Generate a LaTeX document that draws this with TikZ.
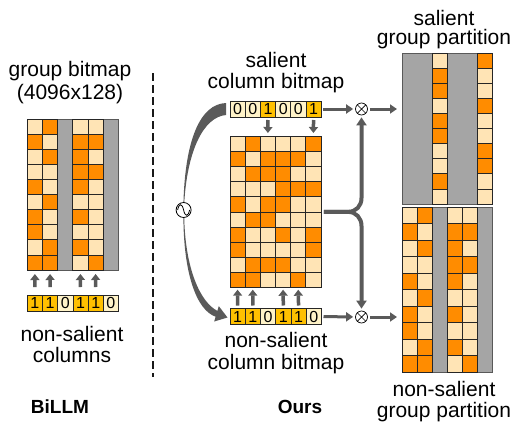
\documentclass[tikz,border=0pt]{standalone}
\usepackage{fontspec}
\setmainfont{Liberation Sans}
\usetikzlibrary{arrows.meta}
\definecolor{orng}{HTML}{FF8C00}
\definecolor{lite}{HTML}{FFE4B5}
\definecolor{bitone}{HTML}{FFC000}
\definecolor{bitzero}{HTML}{FFF3C8}
\definecolor{colgray}{HTML}{A5A5A5}
\definecolor{arrgray}{HTML}{5A5A5A}
\newcommand\cellgrid[6]{%
  \foreach \row [count=\r] in {#6}{%
    \foreach \c [count=\k] in \row {%
      \if\c G\relax\else
        \node[cell\c, minimum width=#4pt, minimum height=#5pt] (#1-\r-\k) at ({#2+(\k-0.5)*#4},{#3+(\r-0.5)*#5}) {};
      \fi
    }%
  }%
}
\newcommand\bitvec[5]{%
  \foreach \b [count=\k] in {#5}{%
    \node[bit\b, minimum width=#4pt] (#1-\k) at ({#2+(\k-0.5)*#4},#3) {\b};
  }%
}
\tikzset{
  cellbase/.style={draw=black!85, line width=0.7pt, inner sep=0pt, outer sep=0pt},
  cellO/.style={cellbase, fill=orng},
  cellL/.style={cellbase, fill=lite},
  graycol/.style={draw=black!65, line width=0.7pt, fill=colgray, inner sep=0pt, outer sep=0pt},
  frame/.style={inner sep=0pt, outer sep=0pt},
  bitbase/.style={cellbase, minimum height=16pt, font=\fontsize{16}{16}\selectfont, text=black},
  bit1/.style={bitbase, fill=bitone},
  bit0/.style={bitbase, fill=bitzero},
  smallarr/.style={draw=arrgray, line width=3.5pt, -{Triangle[length=6pt,width=9pt]}},
  harr/.style={draw=arrgray, line width=3pt, -{Triangle[length=7pt,width=9pt]}},
  bracearr/.style={draw=arrgray, line width=4pt, -{Triangle[length=8pt,width=10pt]}},
  otimes/.style={circle, draw=black, line width=0.7pt, minimum size=12pt, inner sep=0pt, fill=white},
  lbl/.style={font=\fontsize{21}{22}\selectfont, inner sep=0pt, anchor=base},
  boldlbl/.style={font=\fontsize{19}{20}\selectfont\bfseries, inner sep=0pt, anchor=base},
  dashline/.style={draw=black!90, line width=2pt, dash pattern=on 8pt off 4pt}
}
\begin{document}
\begin{tikzpicture}[x=1pt,y=-1pt]
\useasboundingbox (0,0) rectangle (522,423);

% ---------------- BiLLM (left) ----------------
\node[lbl] (t1) at (70,76) {group bitmap};
\node[lbl] (t2) at (70,99) {(4096x128)};
\node[graycol, minimum width=15.17pt, minimum height=151pt] (lgc3) at (65.2,194.5) {};
\node[graycol, minimum width=15.17pt, minimum height=151pt] (lgc6) at (110.7,194.5) {};
\cellgrid{lg}{27.3}{119}{15.17}{15.1}{%
 {L,O,G,L,L,G},{O,L,G,O,O,G},{L,O,G,O,L,G},{L,L,G,O,O,G},{O,L,G,O,L,G},
 {L,O,G,L,L,G},{O,L,G,O,L,G},{O,L,G,L,L,G},{L,O,G,O,L,G},{O,O,G,L,O,G}}
\bitvec{lb}{27.3}{303}{15.2}{1,1,0,1,1,0}
\foreach \k in {1,2,4,5}{
  \draw[smallarr, shorten <=8pt, shorten >=4pt] (lb-\k.north) -- (lg-10-\k.south);
}
\node[lbl] (t3) at (72,341) {non-salient};
\node[lbl] (t4) at (72,362) {columns};
\node[boldlbl] (t13) at (60,413) {BiLLM};

\draw[dashline] (152.5,73) -- (152.5,377);

% ---------------- Ours (middle) ----------------
\node[lbl] (t5) at (276,67) {salient};
\node[lbl] (t6) at (276,88) {column bitmap};
\bitvec{sb}{230}{109}{15.2}{0,0,1,0,0,1}
\node[frame, minimum width=90.9pt, minimum height=151.7pt] (mg) at (275.45,211.85) {};
\cellgrid{mg}{230}{136}{15.15}{15.17}{%
 {L,O,L,L,L,O},{O,L,O,O,O,L},{L,O,O,O,L,L},{L,L,L,O,O,O},{O,L,O,O,L,L},
 {L,O,O,L,L,L},{O,L,L,O,L,O},{O,L,L,L,L,O},{L,O,O,O,L,L},{O,O,L,L,O,L}}
\bitvec{nb}{230}{316.5}{15.25}{1,1,0,1,1,0}
\foreach \k in {3,6}{
  \draw[smallarr, shorten <=3pt, shorten >=3pt] (sb-\k.south) -- (mg-1-\k.north);
}
\foreach \k in {1,2,4,5}{
  \draw[smallarr, shorten <=3pt, shorten >=2pt] (nb-\k.north) -- (mg-10-\k.south);
}
\node[lbl] (t7) at (276,347) {non-salient};
\node[lbl] (t8) at (276,369) {column bitmap};
\node[boldlbl] (t14) at (300,413) {Ours};

% curved tapered arrow with sine symbol
\fill[arrgray] (226,103) .. controls (200,104) and (185,140) .. (183.4,204)
   -- (184.2,204) .. controls (187,152) and (203,117) .. (226,115) -- cycle;
\fill[arrgray] (183.4,216) .. controls (183.4,272) and (196,310) .. (215.6,316.7)
   -- (214.2,321.5) -- (227.5,317.5) -- (218.8,306.1) -- (217.4,310.9)
   .. controls (200,302) and (185,268) .. (184.2,216) -- cycle;
\node[circle, draw=black, line width=0.8pt, minimum size=15pt, inner sep=0pt, fill=white] (sine) at (183.6,210) {};
\draw[line width=0.8pt] ([xshift=-6pt]sine.center) .. controls +(1.5,-7) and +(-1.5,-7) .. (sine.center)
      .. controls +(1.5,7) and +(-1.5,7) .. ([xshift=6pt]sine.center);

% otimes and brace
\node[otimes] (ox1) at (361.5,109) {};
\node[otimes] (ox2) at (361.5,317) {};
\foreach \o in {ox1,ox2}{
  \draw[line width=0.7pt] (\o.north west) -- (\o.south east) (\o.north east) -- (\o.south west);
}
\draw[harr, shorten <=2pt, shorten >=2pt] (sb-6) -- (ox1);
\draw[harr, shorten <=2pt, shorten >=2pt] (nb-6) -- (ox2);
\draw[bracearr, shorten <=3pt, shorten >=2pt] (mg.east) -- (348,211.85) .. controls (356,211.85) and (361.5,206) .. (361.5,198) -- (ox1.south);
\draw[bracearr, shorten <=3pt, shorten >=2pt] (mg.east) -- (348,211.85) .. controls (356,211.85) and (361.5,218) .. (361.5,226) -- (ox2.north);

% ---------------- partitions (right) ----------------
\node[lbl] (t9) at (444,25) {salient};
\node[lbl] (t10) at (444,44) {group partition};
\node[frame, minimum width=90.6pt, minimum height=151pt] (sp) at (447.3,128.5) {};
\node[graycol, minimum width=30.2pt, minimum height=151pt] (spg1) at (417.1,128.5) {};
\node[graycol, minimum width=30.2pt, minimum height=151pt] (spg2) at (462.4,128.5) {};
\cellgrid{sp}{402}{53}{15.1}{15.1}{%
 {G,G,L,G,G,O},{G,G,O,G,G,L},{G,G,O,G,G,L},{G,G,L,G,G,O},{G,G,O,G,G,L},
 {G,G,O,G,G,L},{G,G,L,G,G,O},{G,G,L,G,G,O},{G,G,O,G,G,L},{G,G,L,G,G,L}}
\node[frame, minimum width=90.6pt, minimum height=165pt] (np) at (447.3,289.5) {};
\node[graycol, minimum width=15.1pt, minimum height=165pt] (npg1) at (439.75,289.5) {};
\node[graycol, minimum width=15.1pt, minimum height=165pt] (npg2) at (485.05,289.5) {};
\cellgrid{np}{402}{207}{15.1}{16.5}{%
 {L,O,G,L,L,G},{O,L,G,O,O,G},{L,O,G,O,L,G},{L,L,G,O,O,G},{O,L,G,O,L,G},
 {L,O,G,L,L,G},{O,L,G,O,L,G},{O,L,G,L,L,G},{L,O,G,O,L,G},{O,O,G,L,O,G}}
\draw[harr, shorten <=2pt, shorten >=5pt] (ox1) -- (ox1 -| sp.west);
\draw[harr, shorten <=2pt, shorten >=5pt] (ox2) -- (ox2 -| np.west);
\node[lbl] (t11) at (444,396) {non-salient};
\node[lbl] (t12) at (444,417) {group partition};
\end{tikzpicture}
\end{document}
